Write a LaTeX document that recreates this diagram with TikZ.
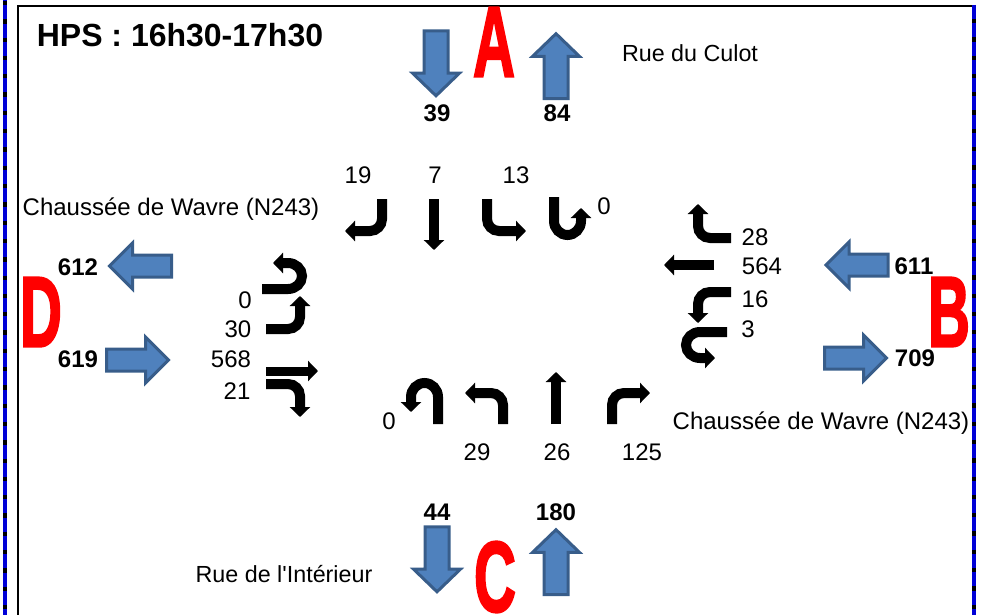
\documentclass[tikz,border=0pt]{standalone}
\usepackage{fontspec}
\usepackage{graphicx}
\setmainfont{Liberation Sans}
\newfontfamily\plainfont{Liberation Sans}
\newfontfamily\legfont[BoldFeatures={FakeBold=2.5}]{Liberation Sans}
\usetikzlibrary{arrows.meta,shapes.arrows}

\definecolor{arrowblue}{RGB}{79,129,189}
\definecolor{arrowedge}{RGB}{56,93,138}
\definecolor{edgeblue}{RGB}{0,0,215}

\tikzstyle {flow} = [draw=arrowedge, line width=3pt, fill=arrowblue, single arrow, inner xsep=0pt, inner ysep=10.5pt, outer sep=0pt, minimum height=65pt, minimum width=21pt, single arrow head extend=11.5pt, single arrow head indent=0pt, single arrow tip angle=92]
\tikzstyle {flowh} = [flow, inner ysep=9.5pt, minimum height=62pt, minimum width=19pt, single arrow head extend=12pt, single arrow tip angle=90]
\tikzstyle {turn} = [line width=10pt, rounded corners=12pt, -{Triangle[width=20pt,length=10pt]}]
\tikzstyle {count} = [font=\fontsize{24}{24}\selectfont, inner sep=0pt]
\tikzstyle {total} = [font=\fontsize{24}{24}\selectfont\bfseries, inner sep=0pt]
\tikzstyle {street} = [font=\plainfont\fontsize{24}{24}\selectfont, inner sep=0pt]
\tikzstyle {shortstreet} = [font=\plainfont\fontsize{23.3}{24}\selectfont, inner sep=0pt]
\tikzstyle {leg} = [text=red, inner sep=0pt, font=\legfont\fontsize{100}{100}\selectfont\bfseries]

\newcommand{\legletter}[1]{\scalebox{.58}[1]{#1}}

\begin{document}
\begin{tikzpicture}[x=1pt, y=-1pt]
    \useasboundingbox (0,0) rectangle (987,615);
    % frame
    \draw [line width=2pt] (18,620) -- (18,6) -- (974,6);
    \draw [edgeblue, line width=4pt] (5,0) -- (5,615);
    \draw [edgeblue, line width=4pt] (974,5) -- (974,615);
    \draw [line width=4pt, dash pattern=on 4.3pt off 14pt] (5,1) -- (5,615);
    \draw [line width=4pt, dash pattern=on 4.3pt off 14pt] (974,19) -- (974,615);

    \node [font=\fontsize{32}{32}\selectfont\bfseries, inner sep=0pt] (title) at (180,35) {HPS : 16h30-17h30};

    % legs
    \node [leg] (legA) at (494,42) {\legletter{A}};
    \node [leg] (legB) at (949,312) {\legletter{B}};
    \node [leg] (legC) at (495,577) {\legletter{C}};
    \node [leg] (legD) at (41,312) {\legletter{D}};

    % totals
    \node [flow, rotate=-90] (Aout) at (436,57.5) {};
    \node [flow, rotate=90] (Ain) at (556,72) {};
    \node [total] (Aoutn) at (437,113) {39};
    \node [total] (Ainn) at (557,113) {84};

    \node [flowh, rotate=180] (Bin) at (862.5,265) {};
    \node [flowh] (Bout) at (850,358) {};
    \node [total] (Binn) at (914,266) {611};
    \node [total] (Boutn) at (915,358) {709};

    \node [flow, rotate=-90] (Cout) at (437,553.5) {};
    \node [flow, rotate=90] (Cin) at (556,568) {};
    \node [total] (Coutn) at (437,512) {44};
    \node [total] (Cinn) at (556,512) {180};

    \node [flowh, rotate=180] (Dout) at (146,266) {};
    \node [flowh] (Din) at (132,360) {};
    \node [total] (Doutn) at (78,267) {612};
    \node [total] (Dinn) at (78,359) {619};

    % streets
    \node [shortstreet] (north) at (690,53) {Rue du Culot};
    \node [street] (west) at (171,209) {Chaussée de Wavre (N243)};
    \node [street] (east) at (821,423) {Chaussée de Wavre (N243)};
    \node [shortstreet] (south) at (284,574) {Rue de l'Intérieur};

    % north movements
    \node [count] (n19) at (358,175) {19};
    \node [count] (n7) at (435,175) {7};
    \node [count] (n13) at (516,175) {13};
    \node [count] (n0) at (604,206) {0};
    \draw [turn] (382,199) -- (382,231) -- (345,231);
    \draw [turn] (434,199) -- (434,250);
    \draw [turn] (487,199) -- (487,231) -- (526,231);
    \draw [turn, rounded corners=0pt] (554,197) -- (554,221) arc (180:0:13.5 and 14) -- (581,208);

    % east movements
    \node [count] (e28) at (755,237) {28};
    \node [count] (e564) at (762,266) {564};
    \node [count] (e16) at (755,299) {16};
    \node [count] (e3) at (748,329) {3};
    \draw [turn] (731,238) -- (698,238) -- (698,204);
    \draw [turn] (714,265) -- (664,265);
    \draw [turn] (731,292) -- (698,292) -- (698,323);
    \draw [turn, rounded corners=0pt] (727,332) -- (700,332) arc (-90:-270:14 and 13) -- (715,358);

    % south movements
    \node [count] (s0) at (389,421) {0};
    \node [count] (s29) at (477,452) {29};
    \node [count] (s26) at (557,452) {26};
    \node [count] (s125) at (642,452) {125};
    \draw [turn, rounded corners=0pt] (438,424) -- (438,397) arc (0:-180:13.5 and 14) -- (411,412);
    \draw [turn] (503,424) -- (503,393) -- (465,393);
    \draw [turn] (556,424) -- (556,372);
    \draw [turn] (612,424) -- (612,393) -- (650,393);

    % west movements
    \node [count] (w0) at (245,300) {0};
    \node [count] (w30) at (238,329) {30};
    \node [count] (w568) at (231,359) {568};
    \node [count] (w21) at (237,391) {21};
    \draw [turn, rounded corners=0pt] (262,289) -- (288,289) arc (90:-90:14 and 13) -- (273,263);
    \draw [turn] (266,329) -- (300,329) -- (300,296);
    \draw [turn, line width=9pt] (266,371) -- (318,371);
    \draw [turn] (266,384) -- (300,384) -- (300,417);
\end{tikzpicture}
\end{document}
